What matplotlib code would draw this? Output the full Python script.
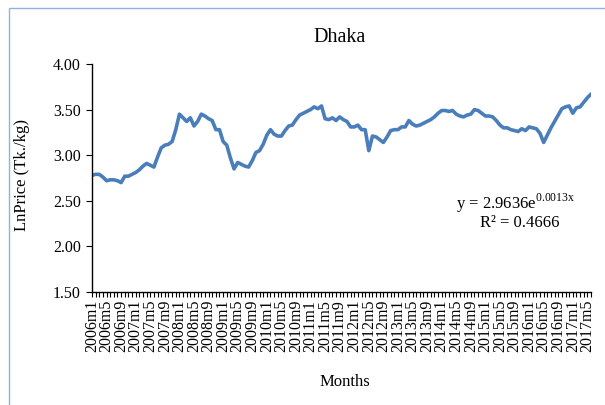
import numpy as np
import matplotlib
matplotlib.use("Agg")
from matplotlib import pyplot as plt
from matplotlib.patches import Rectangle

plt.rcParams['font.family'] = ['Liberation Serif', 'DejaVu Serif']
plt.rcParams['mathtext.fontset'] = 'custom'
plt.rcParams['mathtext.rm'] = 'Liberation Serif'

# ######### Data - ln price, Dhaka, 2006m1 .. 2017m6 #########
start_year = 2006
ln_price = [
    2.78, 2.79, 2.79, 2.76, 2.72, 2.73, 2.73, 2.72, 2.70, 2.77,
    2.77, 2.79, 2.81, 2.84, 2.88, 2.91, 2.89, 2.87, 2.98, 3.08,
    3.11, 3.12, 3.15, 3.28, 3.45, 3.41, 3.37, 3.41, 3.32, 3.37,
    3.45, 3.43, 3.40, 3.38, 3.28, 3.28, 3.15, 3.11, 2.97, 2.85,
    2.92, 2.90, 2.88, 2.87, 2.94, 3.03, 3.05, 3.12, 3.22, 3.28,
    3.23, 3.21, 3.21, 3.27, 3.32, 3.33, 3.39, 3.44, 3.46, 3.48,
    3.50, 3.53, 3.51, 3.54, 3.40, 3.39, 3.41, 3.38, 3.42, 3.39,
    3.37, 3.31, 3.31, 3.33, 3.28, 3.28, 3.05, 3.21, 3.20, 3.17,
    3.14, 3.20, 3.27, 3.28, 3.28, 3.31, 3.31, 3.38, 3.34, 3.32,
    3.33, 3.35, 3.37, 3.39, 3.42, 3.46, 3.49, 3.49, 3.48, 3.49,
    3.45, 3.43, 3.42, 3.44, 3.45, 3.50, 3.49, 3.46, 3.43, 3.43,
    3.42, 3.38, 3.33, 3.30, 3.30, 3.28, 3.27, 3.26, 3.29, 3.27,
    3.31, 3.30, 3.29, 3.24, 3.14, 3.22, 3.30, 3.37, 3.44, 3.51,
    3.53, 3.54, 3.46, 3.52, 3.53, 3.58, 3.63, 3.67,
]
months = ['%dm%d' % (start_year + i // 12, i % 12 + 1) for i in range(len(ln_price))]
y_ticks = [1.50, 2.00, 2.50, 3.00, 3.50, 4.00]
trend_eq = r'y = 2.9636e$^{\mathrm{0.0013x}}$'
trend_r2 = 'R² = 0.4666'

######### Visualization #########
fig = plt.figure(figsize=(6.05, 4.05), dpi=100)

# light blue chart frame
fig.patches.append(Rectangle((9 / 605, -0.01), 1.0, 1 - 8 / 405 + 0.01, transform=fig.transFigure,
                             fill=False, edgecolor='#8db3e2', linewidth=1.0))

ax = fig.add_axes([92 / 605, 1 - 292 / 405, (591 - 92) / 605, (292 - 64) / 405])
x = np.arange(len(ln_price))
ax.plot(x, ln_price, color='#4a7ebb', linewidth=2.6, solid_capstyle='round')

ax.set_xlim(0, len(ln_price) - 1)
ax.set_ylim(1.5, 4.0)
ax.set_yticks(y_ticks)
ax.set_yticklabels(['%.2f' % v for v in y_ticks], fontsize=11.5)
ax.set_xticks(x)
ax.set_xticklabels([m if i % 4 == 0 else '' for i, m in enumerate(months)],
                   rotation=90, fontsize=11.5)
ax.tick_params(axis='x', length=3.5, width=0.8, pad=2)
ax.tick_params(axis='y', length=4, width=0.8, pad=4)

for s in ['top', 'right']:
    ax.spines[s].set_visible(False)
for s in ['left', 'bottom']:
    ax.spines[s].set_linewidth(1.0)

fig.text(340 / 605, 1 - 38 / 405, 'Dhaka', ha='center', va='center', fontsize=14.5)
fig.text(22 / 605, 1 - 175 / 405, 'LnPrice (Tk./kg)', rotation=90, ha='center', va='center', fontsize=12)
fig.text(345 / 605, 1 - 382 / 405, 'Months', ha='center', va='center', fontsize=12)

fig.text(515 / 605, 1 - 203 / 405, trend_eq, ha='center', va='center', fontsize=12)
fig.text(520 / 605, 1 - 223 / 405, trend_r2, ha='center', va='center', fontsize=12)

fig.savefig('out.png', dpi=100)
